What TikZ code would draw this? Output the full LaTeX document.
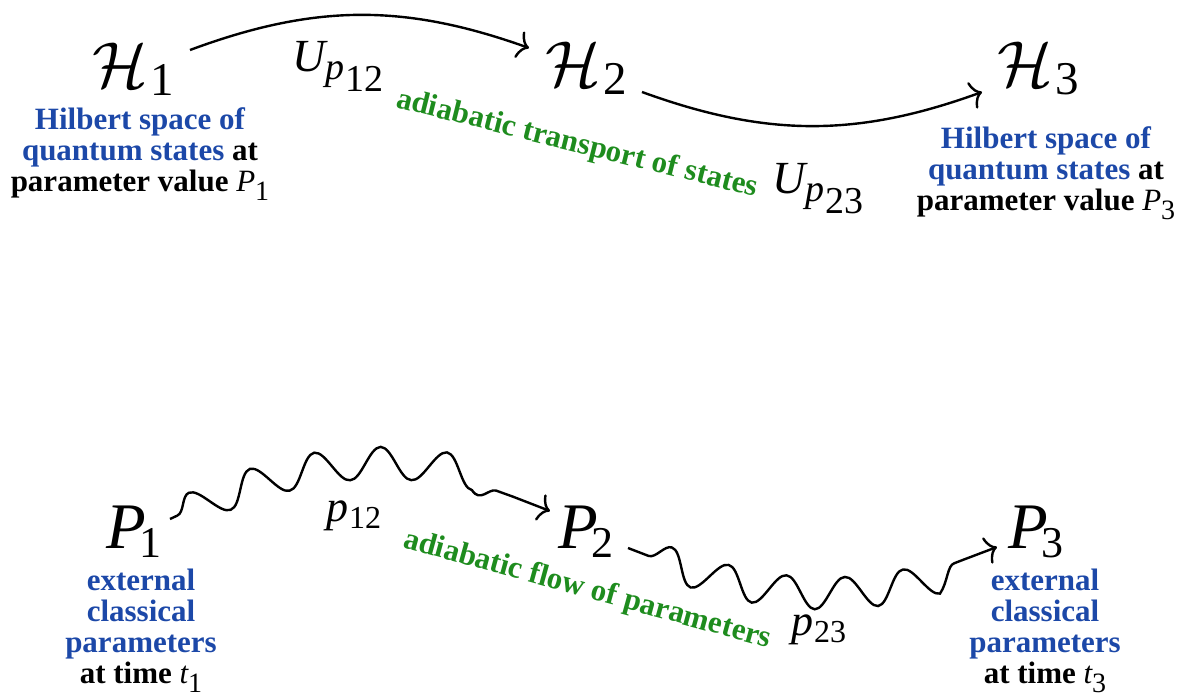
\documentclass[tikz,border=0pt]{standalone}
\usepackage{graphicx}
\usepackage{fontspec}
\setmainfont{Liberation Serif}
\usetikzlibrary{arrows.meta,decorations.pathmorphing}
\definecolor{capblue}{RGB}{28,72,168}
\definecolor{capgreen}{RGB}{30,140,30}
\newcommand\Hlab[1]{\scalebox{6.5}{$\mathcal{H}$}\kern3pt\raisebox{-8pt}{\fontsize{47}{47}\selectfont #1}}
\newcommand\Plab[1]{{\fontsize{65}{70}\selectfont\itshape P}\kern-6pt\raisebox{-9pt}{\fontsize{44}{44}\selectfont #1}}
\newcommand\Ulab[1]{{\fontsize{46}{46}\selectfont\itshape U}\raisebox{-8pt}{\fontsize{38}{38}\selectfont\itshape p}\kern1pt\raisebox{-20pt}{\fontsize{38}{38}\selectfont #1}}
\newcommand\plab[1]{{\fontsize{44}{44}\selectfont\itshape p}\kern1pt\raisebox{-7pt}{\fontsize{32}{32}\selectfont #1}}
\newcommand\capP[1]{{\mdseries\itshape P}\raisebox{-9pt}{\fontsize{28}{28}\selectfont\mdseries #1}}
\newcommand\capt[1]{{\mdseries\itshape t}\raisebox{-9pt}{\fontsize{28}{28}\selectfont\mdseries #1}}
\tikzset{
  capnode/.style={font=\fontsize{31}{31}\selectfont\bfseries, align=center, inner sep=0pt, anchor=north},
  bignode/.style={inner sep=0pt, anchor=base west},
  flowlbl/.style={font=\fontsize{31}{31}\selectfont\bfseries, text=capgreen, inner sep=0pt, anchor=base west},
  conn/.style={line width=2.4pt, -{Computer Modern Rightarrow[length=11pt,width=28pt]}},
  wavy/.style n args={3}{conn, decorate, decoration={snake, amplitude=16pt, segment length=#2, pre length=#1, post length=#3}}
}
\begin{document}
\begin{tikzpicture}[x=1pt,y=-1pt]
\useasboundingbox (0,0) rectangle (1178,693);
% top row
\node[bignode] (H1) at (92,88) {\Hlab{1}};
\node[bignode] (H2) at (545,87) {\Hlab{2}};
\node[bignode] (H3) at (997,87) {\Hlab{3}};
\node[bignode] (U12) at (292,72) {\Ulab{12}};
\node[bignode] (U23) at (772,193) {\Ulab{23}};
\node[flowlbl, rotate=-14] (T1) at (395,107) {adiabatic transport of states};
\node[capnode] (C1) at (140,107) {\textcolor{capblue}{Hilbert space of}\\\textcolor{capblue}{quantum states} at\\parameter value \capP{1}};
\node[capnode] (C3) at (1046,126) {\textcolor{capblue}{Hilbert space of}\\\textcolor{capblue}{quantum states} at\\parameter value \capP{3}};
\draw[conn] ([shift={(98,-38)}]H1.base west) to[bend left=20] ([shift={(-16,-39)}]H2.base west);
\draw[conn] ([shift={(97,5)}]H2.base west) to[bend right=20] ([shift={(-15,5)}]H3.base west);
% bottom row
\node[bignode] (P1) at (106,548) {\Plab{1}};
\node[bignode] (P2) at (558,548) {\Plab{2}};
\node[bignode] (P3) at (1008,548) {\Plab{3}};
\node[bignode] (p12) at (326,521) {\plab{12}};
\node[bignode] (p23) at (791,635) {\plab{23}};
\node[flowlbl, rotate=-15.4] (T2) at (402,547) {adiabatic flow of parameters};
\node[capnode] (C4) at (141,569) {\textcolor{capblue}{external}\\\textcolor{capblue}{classical}\\\textcolor{capblue}{parameters}\\at time \capt{1}};
\node[capnode] (C6) at (1045,569) {\textcolor{capblue}{external}\\\textcolor{capblue}{classical}\\\textcolor{capblue}{parameters}\\at time \capt{3}};
\draw[wavy={8pt}{64pt}{40pt}] ([shift={(64,-29)}]P1.base west) to[bend left=24] ([shift={(-8,-37)}]P2.base west);
\draw[wavy={22pt}{61pt}{38pt}] ([shift={(70,0)}]P2.base west) to[bend right=22] ([shift={(-11,-1)}]P3.base west);
\end{tikzpicture}
\end{document}
